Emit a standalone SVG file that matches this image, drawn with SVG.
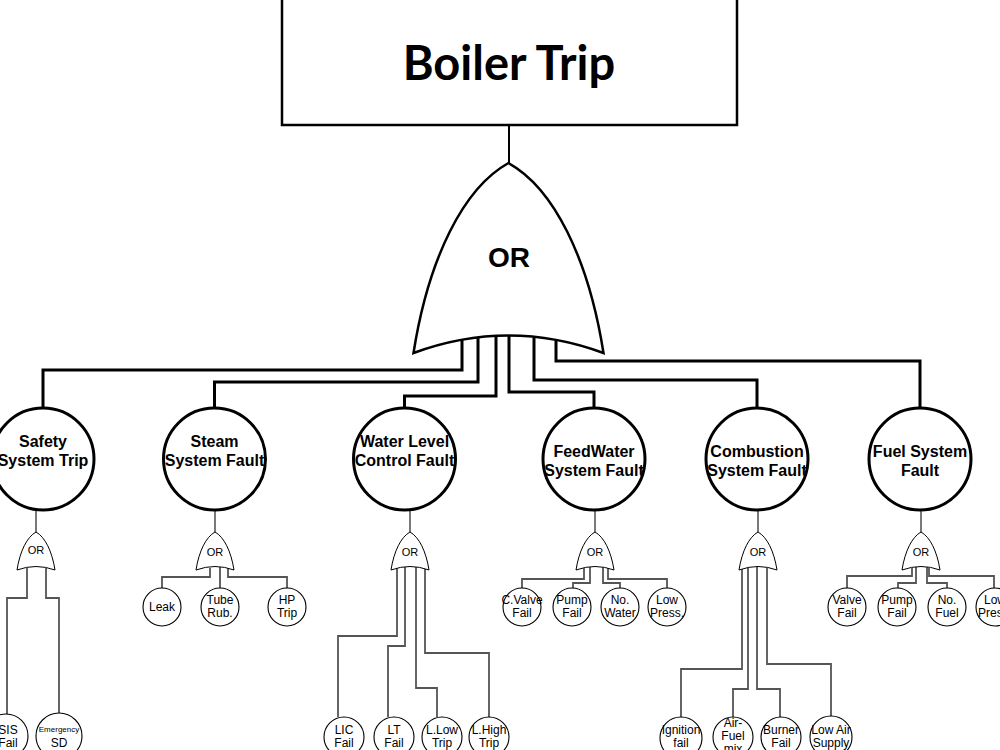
<svg xmlns="http://www.w3.org/2000/svg" xmlns:xlink="http://www.w3.org/1999/xlink" width="1000" height="750" viewBox="0 0 1000 750">
<style>
.big{fill:#fff;stroke:#000;stroke-width:3}
.bigt{font-family:"Liberation Sans",Arial,sans-serif;font-weight:bold;font-size:16px;text-anchor:middle;fill:#000}
.leaf{fill:#fff;stroke:#000;stroke-width:1.1}
.lt{font-family:"Liberation Sans",Arial,sans-serif;font-size:12px;text-anchor:middle;fill:#000}
.main{fill:none;stroke:#000;stroke-width:3}
.sub{fill:none;stroke:#555;stroke-width:1.8}
.feed{fill:none;stroke:#222;stroke-width:1.2}
.gt{font-family:"Liberation Sans",Arial,sans-serif;font-size:11px;text-anchor:middle;fill:#000}
</style>
<defs>
<path id="gate" d="M-95,190 C-80,95 -45,25 0,0 C45,25 80,95 95,190 Q0,155 -95,190 Z"/>
</defs>
<rect width="1000" height="750" fill="#fff"/>
<g id="top">
<rect x="282" y="-5" width="455" height="130" fill="#fff" stroke="#000" stroke-width="2.5"/>
<text x="509" y="80" font-family="Lato,'Open Sans',sans-serif" font-weight="bold" font-size="47" text-anchor="middle">Boiler Trip</text>
</g>
<g id="connectors">
<path class="main" d="M509,125 V163" style="stroke-width:2"/>
<path class="main" d="M462,338 V370 H43 V408"/>
<path class="main" d="M478,337 V382 H214.5 V408"/>
<path class="main" d="M496,336 V396 H404.5 V408"/>
<path class="main" d="M509,335 V392 H594 V408"/>
<path class="main" d="M534,337 V380 H757 V408"/>
<path class="main" d="M556,340 V361 H920 V408"/>
<path class="feed" d="M36,510 V532 M215,510 V532 M410,510 V532 M595,510 V532 M758,510 V532 M921,510 V532"/>
<path class="sub" d="M27,568 V598 H7 V715 M46,568 V598 H59 V713"/>
<path class="sub" d="M210,568 V577 H162 V588 M220,567 V588 M228,568 V577 H287 V588"/>
<path class="sub" d="M397,568 V636 H338 V717 M405,567 V646 H388 V717 M416,567 V688 H437 V717 M425,568 V653 H489 V717"/>
<path class="sub" d="M584,568 V579 H522 V588 M590,567 V583 H573 V588 M603,567 V583 H620 V588 M608,568 V579 H667 V588"/>
<path class="sub" d="M742,568 V669 H681 V717 M748,567 V689 H733 V717 M757,566 V689 H780 V717 M767,567 V664 H831 V717"/>
<path class="sub" d="M912,568 V576 H847 V588 M916,567 V583 H898 V588 M927,567 V583 H947 V588 M929,568 V576 H994 V588"/>
</g>
<g id="or-main">
<use xlink:href="#gate" transform="translate(508.5,163)" fill="#fff" stroke="#000" stroke-width="2.5"/>
<text x="509" y="267" font-family="'Liberation Sans',Arial,sans-serif" font-weight="bold" font-size="28" text-anchor="middle">OR</text>
</g>
<g id="safety">
<circle class="big" cx="43" cy="459" r="51"/>
<text class="bigt" x="43" y="447">Safety</text>
<text class="bigt" x="43" y="466">System Trip</text>
<use xlink:href="#gate" transform="translate(36,532) scale(0.2)" fill="#fff" stroke="#000" stroke-width="5"/>
<text class="gt" x="36" y="554">OR</text>
</g>
<g id="steam">
<circle class="big" cx="214.5" cy="459" r="51"/>
<text class="bigt" x="214.5" y="447">Steam</text>
<text class="bigt" x="214.5" y="466">System Fault</text>
<use xlink:href="#gate" transform="translate(215,532) scale(0.2)" fill="#fff" stroke="#000" stroke-width="5"/>
<text class="gt" x="215" y="556">OR</text>
</g>
<g id="water">
<circle class="big" cx="404.5" cy="459" r="51"/>
<text class="bigt" x="404.5" y="447">Water Level</text>
<text class="bigt" x="404.5" y="466">Control Fault</text>
<use xlink:href="#gate" transform="translate(410,532) scale(0.2)" fill="#fff" stroke="#000" stroke-width="5"/>
<text class="gt" x="410" y="556">OR</text>
</g>
<g id="feedwater">
<circle class="big" cx="594" cy="459" r="51"/>
<text class="bigt" x="594" y="457">FeedWater</text>
<text class="bigt" x="594" y="476">System Fault</text>
<use xlink:href="#gate" transform="translate(595,532) scale(0.2)" fill="#fff" stroke="#000" stroke-width="5"/>
<text class="gt" x="595" y="556">OR</text>
</g>
<g id="combustion">
<circle class="big" cx="757" cy="459" r="51"/>
<text class="bigt" x="757" y="457">Combustion</text>
<text class="bigt" x="757" y="476">System Fault</text>
<use xlink:href="#gate" transform="translate(758,532) scale(0.2)" fill="#fff" stroke="#000" stroke-width="5"/>
<text class="gt" x="758" y="556">OR</text>
</g>
<g id="fuel">
<circle class="big" cx="920" cy="459" r="51"/>
<text class="bigt" x="920" y="457">Fuel System</text>
<text class="bigt" x="920" y="476">Fault</text>
<use xlink:href="#gate" transform="translate(921,532) scale(0.2)" fill="#fff" stroke="#000" stroke-width="5"/>
<text class="gt" x="921" y="556">OR</text>
</g>
<g id="sis"><circle class="leaf" cx="6" cy="736" r="22"/><text class="lt" x="8" y="734">SIS</text><text class="lt" x="8" y="747">Fail</text></g>
<g id="esd"><circle class="leaf" cx="59" cy="736" r="23"/><text class="lt" x="59" y="732" style="font-size:8px">Emergency</text><text class="lt" x="59" y="747">SD</text></g>
<g id="leak"><circle class="leaf" cx="162" cy="607" r="19"/><text class="lt" x="162" y="611">Leak</text></g>
<g id="tube"><circle class="leaf" cx="220" cy="607" r="19"/><text class="lt" x="220" y="604">Tube</text><text class="lt" x="220" y="617">Rub.</text></g>
<g id="hp"><circle class="leaf" cx="287" cy="607" r="19"/><text class="lt" x="287" y="604">HP</text><text class="lt" x="287" y="617">Trip</text></g>
<g id="lic"><circle class="leaf" cx="344" cy="737" r="20"/><text class="lt" x="344" y="734">LIC</text><text class="lt" x="344" y="747">Fail</text></g>
<g id="lt"><circle class="leaf" cx="394" cy="737" r="20"/><text class="lt" x="394" y="734">LT</text><text class="lt" x="394" y="747">Fail</text></g>
<g id="llow"><circle class="leaf" cx="442" cy="737" r="20"/><text class="lt" x="442" y="734">L.Low</text><text class="lt" x="442" y="747">Trip</text></g>
<g id="lhigh"><circle class="leaf" cx="489" cy="737" r="20"/><text class="lt" x="489" y="734">L.High</text><text class="lt" x="489" y="747">Trip</text></g>
<g id="cvalve"><circle class="leaf" cx="522" cy="607" r="19"/><text class="lt" x="522" y="604">C.Valve</text><text class="lt" x="522" y="617">Fail</text></g>
<g id="pumpw"><circle class="leaf" cx="572" cy="607" r="19"/><text class="lt" x="572" y="604">Pump</text><text class="lt" x="572" y="617">Fail</text></g>
<g id="nowater"><circle class="leaf" cx="620" cy="607" r="19"/><text class="lt" x="620" y="604">No.</text><text class="lt" x="620" y="617">Water</text></g>
<g id="lowpw"><circle class="leaf" cx="667" cy="607" r="19"/><text class="lt" x="667" y="604">Low</text><text class="lt" x="667" y="617">Press.</text></g>
<g id="ign"><circle class="leaf" cx="681" cy="738" r="21"/><text class="lt" x="681" y="734">Ignition</text><text class="lt" x="681" y="747">fail</text></g>
<g id="afm"><circle class="leaf" cx="733" cy="737" r="20"/><text class="lt" x="733" y="727">Air-</text><text class="lt" x="733" y="740">Fuel</text><text class="lt" x="733" y="753">mix</text></g>
<g id="burner"><circle class="leaf" cx="781" cy="737" r="20"/><text class="lt" x="781" y="734">Burner</text><text class="lt" x="781" y="747">Fail</text></g>
<g id="lowair"><circle class="leaf" cx="831" cy="737" r="21"/><text class="lt" x="831" y="734">Low Air</text><text class="lt" x="831" y="747">Supply</text></g>
<g id="valvef"><circle class="leaf" cx="847" cy="607" r="19"/><text class="lt" x="847" y="604">Valve</text><text class="lt" x="847" y="617">Fail</text></g>
<g id="pumpf"><circle class="leaf" cx="897" cy="607" r="19"/><text class="lt" x="897" y="604">Pump</text><text class="lt" x="897" y="617">Fail</text></g>
<g id="nofuel"><circle class="leaf" cx="947" cy="607" r="19"/><text class="lt" x="947" y="604">No.</text><text class="lt" x="947" y="617">Fuel</text></g>
<g id="lowpf"><circle class="leaf" cx="995" cy="607" r="19"/><text class="lt" x="995" y="604">Low</text><text class="lt" x="995" y="617">Press.</text></g>
</svg>
